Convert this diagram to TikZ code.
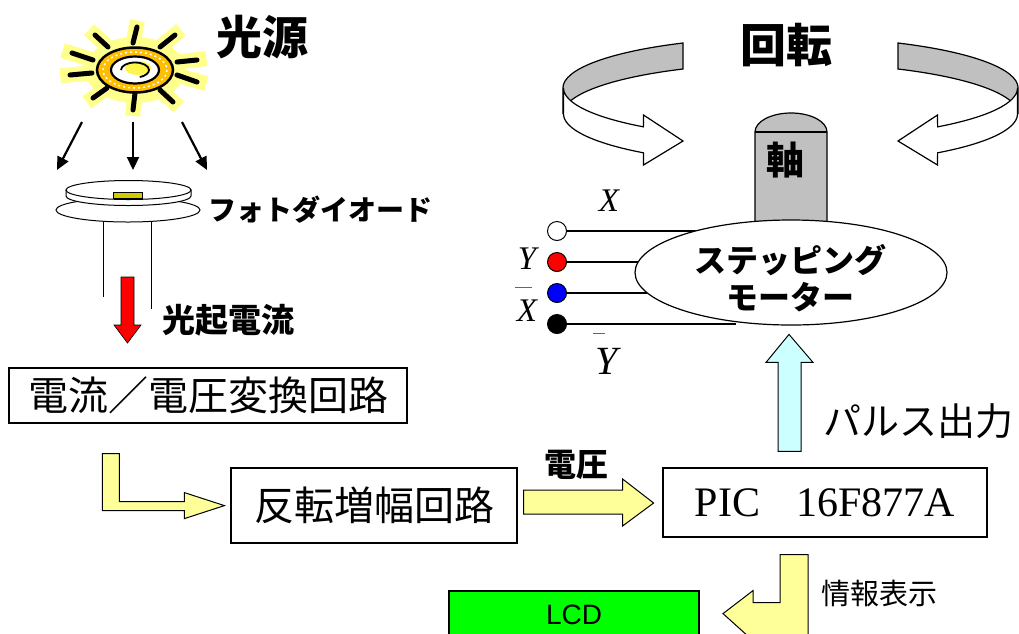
\documentclass[tikz,border=0pt]{standalone}
\usepackage{fontspec}
\setmainfont{Liberation Serif}
\setsansfont{Liberation Sans}
\newfontfamily\jpfont{Noto Sans CJK JP}
\usetikzlibrary{arrows.meta, shapes.geometric, calc}

\definecolor{paleyellow}{RGB}{255,255,153}
\definecolor{palecyan}{RGB}{204,255,255}
\definecolor{lcdgreen}{RGB}{0,255,0}
\definecolor{ribbongray}{RGB}{192,192,192}
\definecolor{chipyellow}{RGB}{204,204,0}
\definecolor{sunorange}{RGB}{255,190,0}
\definecolor{sunglow}{RGB}{255,255,140}

\newcommand{\jpsize}[1]{\jpfont\fontsize{#1}{#1}\selectfont}

\tikzset{
    block/.style = {draw = black, line width = 1.2pt, fill = white, inner sep = 0pt, font = \jpsize{40}},
    flowarrow/.style = {draw = black, line width = 1pt, fill = paleyellow, line join = miter},
    ribbon/.style = {draw = black, line width = 1.2pt},
    terminal/.style = {circle, draw = black, line width = 1pt, minimum size = 19pt, inner sep = 0pt},
    wire/.style = {line width = 1.4pt},
    lightray/.style = {line width = 2.2pt, -{Triangle[length = 13pt, width = 12pt]}},
    boldlabel/.style = {font = \jpsize{#1}\bfseries, inner sep = 0pt},
    plainlabel/.style = {font = \jpsize{#1}, inner sep = 0pt},
    signal/.style = {font = \itshape\fontsize{33}{33}\selectfont, inner sep = 0pt}
}

\begin{document}
\begin{tikzpicture}[x = 10pt, y = -10pt]
    \useasboundingbox (0, 0) rectangle (+101.900, +63.300);
    \clip (0, 0) rectangle (+101.900, +63.300);

    % === Light source ===
    \coordinate (sun) at (+13.500, +7.000);
    \fill[sunglow] (sun) ellipse[x radius = 5.0, y radius = 3.3];
    \foreach \ox/\oy/\ix/\iy in {+0.2/-4.3/-0.2/-2.7, +4.0/-3.5/+2.5/-2.3, +6.2/-1.0/+4.2/-0.8,
        +6.2/+1.2/+4.2/+0.5, +3.8/+3.2/+2.5/+2.0, -0.2/+4.0/0.0/+2.3, -4.2/+2.8/-2.8/+1.8,
        -6.5/+0.5/-4.3/+0.3, -6.3/-1.7/-4.2/-1.0, -4.0/-3.5/-2.7/-2.3}
        \draw[sunglow, line width = 15pt] ($(sun) + (\ix, \iy)$) -- ($(sun) + 1.15*(\ox, \oy)$);
    \foreach \ox/\oy/\ix/\iy in {+0.2/-4.3/-0.2/-2.7, +4.0/-3.5/+2.5/-2.3, +6.2/-1.0/+4.2/-0.8,
        +6.2/+1.2/+4.2/+0.5, +3.8/+3.2/+2.5/+2.0, -0.2/+4.0/0.0/+2.3, -4.2/+2.8/-2.8/+1.8,
        -6.5/+0.5/-4.3/+0.3, -6.3/-1.7/-4.2/-1.0, -4.0/-3.5/-2.7/-2.3}
        \draw[line width = 5pt, line cap = round] ($(sun) + (\ix, \iy)$) -- ($(sun) + (\ox, \oy)$);
    \filldraw[fill = sunorange, draw = black, line width = 2.5pt] (sun) ellipse[x radius = 3.8, y radius = 2.25];
    \draw[white, line width = 1.5pt, dash pattern = on 2pt off 3pt] (sun) ellipse[x radius = 3.2, y radius = 1.8];
    \filldraw[fill = white, draw = black, line width = 2.2pt] (sun) ellipse[x radius = 2.4, y radius = 1.35];
    \fill[yellow!70] ($(sun) + (+0.300, -0.200)$) ellipse[x radius = 1.3, y radius = 0.7];
    \draw[line width = 1.8pt] ($(sun) + (-1.400, 0)$) arc[start angle = 180, end angle = 430, x radius = 1.4, y radius = 0.75];
    \node[boldlabel = 46] (srcname) at (+26.200, +3.700) {光源};

    % Rays onto the diode
    \foreach \sx/\ex in {-5.3/-7.8, -0.2/-0.2, +4.7/+7.2}
        \draw[lightray] ($(sun) + (\sx, +5.2)$) -- ($(sun) + (\ex, +10.0)$);

    % === Photodiode ===
    \coordinate (pd) at (+12.850, +19.000);
    \filldraw[fill = white, draw = black, line width = 1pt] ($(pd) + (-0.050, +2.000)$) ellipse[x radius = 7.2, y radius = 1.2];
    \filldraw[fill = white, draw = black, line width = 1pt] ($(pd) + (-6.250, 0)$) -- ++(0, +0.600)
    arc[start angle = 180, end angle = 0, x radius = 6.25, y radius = 0.95] -- ++(0, -0.600) -- cycle;
    \filldraw[fill = white, draw = black, line width = 1pt] (pd) ellipse[x radius = 6.25, y radius = 0.95];
    \filldraw[fill = chipyellow, draw = black, line width = 0.6pt] ($(pd) + (-1.550, +0.200)$) rectangle ($(pd) + (+1.350, +0.800)$);
    \draw[line width = 1pt] ($(pd) + (-2.550, +3.200)$) -- ++(0, +7.500);
    \draw[line width = 1pt] ($(pd) + (+2.250, +3.200)$) -- ++(0, +8.700);
    \node[boldlabel = 28, anchor = west] (pdname) at (+20.800, +21.000) {フォトダイオード};

    % Photocurrent arrow
    \filldraw[fill = red, draw = black, line width = 0.6pt, shift = {(pd)}] (-0.750, +8.700) -- (+0.550, +8.700)
    -- (+0.550, +13.500) -- (+1.250, +13.500) -- (-0.100, +15.300) -- (-1.450, +13.500) -- (-0.750, +13.500) -- cycle;
    \node[boldlabel = 33] (currname) at (+22.800, +32.000) {光起電流};

    % === Signal chain ===
    \node[block, minimum width = 398pt, minimum height = 55pt] (ivconv) at (+20.800, +39.550) {電流／電圧変換回路};
    \node[block, minimum width = 286pt, minimum height = 75pt] (invamp) at (+37.400, +50.550) {反転増幅回路};
    \node[block, minimum width = 324pt, minimum height = 69pt, font = \rmfamily\fontsize{42}{42}\selectfont]
        (pic) at (+82.500, +50.250) {PIC\hspace{36pt}16F877A};
    \node[block, fill = lcdgreen, minimum width = 250pt, minimum height = 48pt, font = \sffamily\fontsize{28}{28}\selectfont]
        (lcd) at (+57.400, +61.500) {LCD};

    \filldraw[flowarrow, shift = {(ivconv.south west)}] (+9.400, +3.000) -- (+11.100, +3.000) -- (+11.100, +7.800)
    -- (+17.600, +7.800) -- (+17.600, +6.900) -- (+21.600, +8.200) -- (+17.600, +9.500) -- (+17.600, +8.700) -- (+9.400, +8.700) -- cycle;
    \filldraw[flowarrow, shift = {(invamp.east)}] (+0.600, -1.550) -- (+10.500, -1.550) -- (+10.500, -2.650)
    -- (+13.600, -0.250) -- (+10.500, +2.050) -- (+10.500, +0.850) -- (+0.600, +0.850) -- cycle;
    \node[boldlabel = 32] (vname) at (+57.600, +46.500) {電圧};

    \filldraw[flowarrow, fill = palecyan, shift = {(pic.north)}] (-4.700, -1.600) -- (-4.700, -10.500) -- (-5.900, -10.500)
    -- (-3.600, -13.300) -- (-1.200, -10.500) -- (-2.400, -10.500) -- (-2.400, -1.600) -- cycle;
    \node[plainlabel = 38] (pulsename) at (+91.850, +42.100) {パルス出力};

    \filldraw[flowarrow, shift = {(pic.south)}] (-4.500, +1.700) -- (-1.700, +1.700) -- (-1.700, +10.300)
    -- (-7.200, +10.300) -- (-10.200, +7.600) -- (-7.200, +5.300) -- (-7.200, +6.500) -- (-4.500, +6.500) -- cycle;
    \node[plainlabel = 29] (infoname) at (+87.950, +59.350) {情報表示};

    % === Rotation ===
    \coordinate (spin) at (+79.050, +8.800);
    % left ribbon
    \filldraw[ribbon, fill = ribbongray, shift = {(spin)}] (-10.750, -4.500)
    arc[start angle = 241.9, end angle = 180, x radius = 22.7, y radius = 5.1] -- ++(0, +2.600)
    arc[start angle = 180, end angle = 241.9, x radius = 22.7, y radius = 5.1] -- cycle;
    \filldraw[ribbon, fill = white, shift = {(spin)}] (-22.700, 0)
    arc[start angle = 180, end angle = 130.4, x radius = 22.7, y radius = 5.1]
    -- (-14.700, +2.700) -- (-10.750, +5.300) -- (-14.700, +7.700) -- (-14.710, +6.480)
    arc[start angle = 130.4, end angle = 180, x radius = 22.7, y radius = 5.1] -- cycle;
    % right ribbon
    \filldraw[ribbon, fill = ribbongray, shift = {(spin)}] (+10.750, -4.500)
    arc[start angle = -61.9, end angle = 0, x radius = 22.7, y radius = 5.1] -- ++(0, +2.600)
    arc[start angle = 0, end angle = -61.9, x radius = 22.7, y radius = 5.1] -- cycle;
    \filldraw[ribbon, fill = white, shift = {(spin)}] (+22.700, 0)
    arc[start angle = 0, end angle = 49.6, x radius = 22.7, y radius = 5.1]
    -- (+14.700, +2.700) -- (+10.750, +5.300) -- (+14.700, +7.700) -- (+14.710, +6.480)
    arc[start angle = 49.6, end angle = 0, x radius = 22.7, y radius = 5.1] -- cycle;
    \node[boldlabel = 46] (rotname) at (+78.600, +4.500) {回転};

    % Shaft
    \filldraw[fill = ribbongray, draw = black, line width = 1.2pt] (+75.500, +23.000) -- (+75.500, +13.200)
    arc[start angle = 180, end angle = 360, x radius = 3.6, y radius = 1.9] -- (+82.700, +23.000) -- cycle;
    \draw[line width = 1.2pt] (+75.500, +13.200) -- (+82.700, +13.200);
    \node[boldlabel = 38] (axisname) at (+78.500, +16.000) {軸};

    % === Stepping motor and its terminals ===
    \foreach \tname/\col/\ty/\len in {tx/white/23.1/12.85, ty/red/26.2/7.35, txb/blue/29.3/8.05, tyb/black/32.4/16.85} {
        \node[terminal, fill = \col] (\tname) at (+55.700, +\ty) {};
        \draw[wire] (\tname.east) -- ++(\len, 0);
    }
    \node[ellipse, draw = black, fill = white, line width = 1.2pt, minimum width = 312pt, minimum height = 105pt,
        inner sep = 0pt] (motor) at (+79.100, +27.250) {};
    \node[boldlabel = 32, align = center] (motorname) at (+79.000, +27.850) {ステッピング\\[5pt]モーター};

    \node[signal] (xname) at (+60.900, +20.100) {X};
    \node[signal] (yname) at (+52.700, +25.900) {Y};
    \node[signal] (xbname) at (+52.700, +31.100) {X};
    \node[signal, font = \itshape\fontsize{40}{40}\selectfont] (ybname) at (+60.700, +36.100) {Y};
    \draw[line width = 1pt, black!60] (+51.500, +28.700) -- (+53.200, +28.700);
    \draw[line width = 1pt, black!60] (+59.300, +33.300) -- (+60.500, +33.300);
\end{tikzpicture}
\end{document}
